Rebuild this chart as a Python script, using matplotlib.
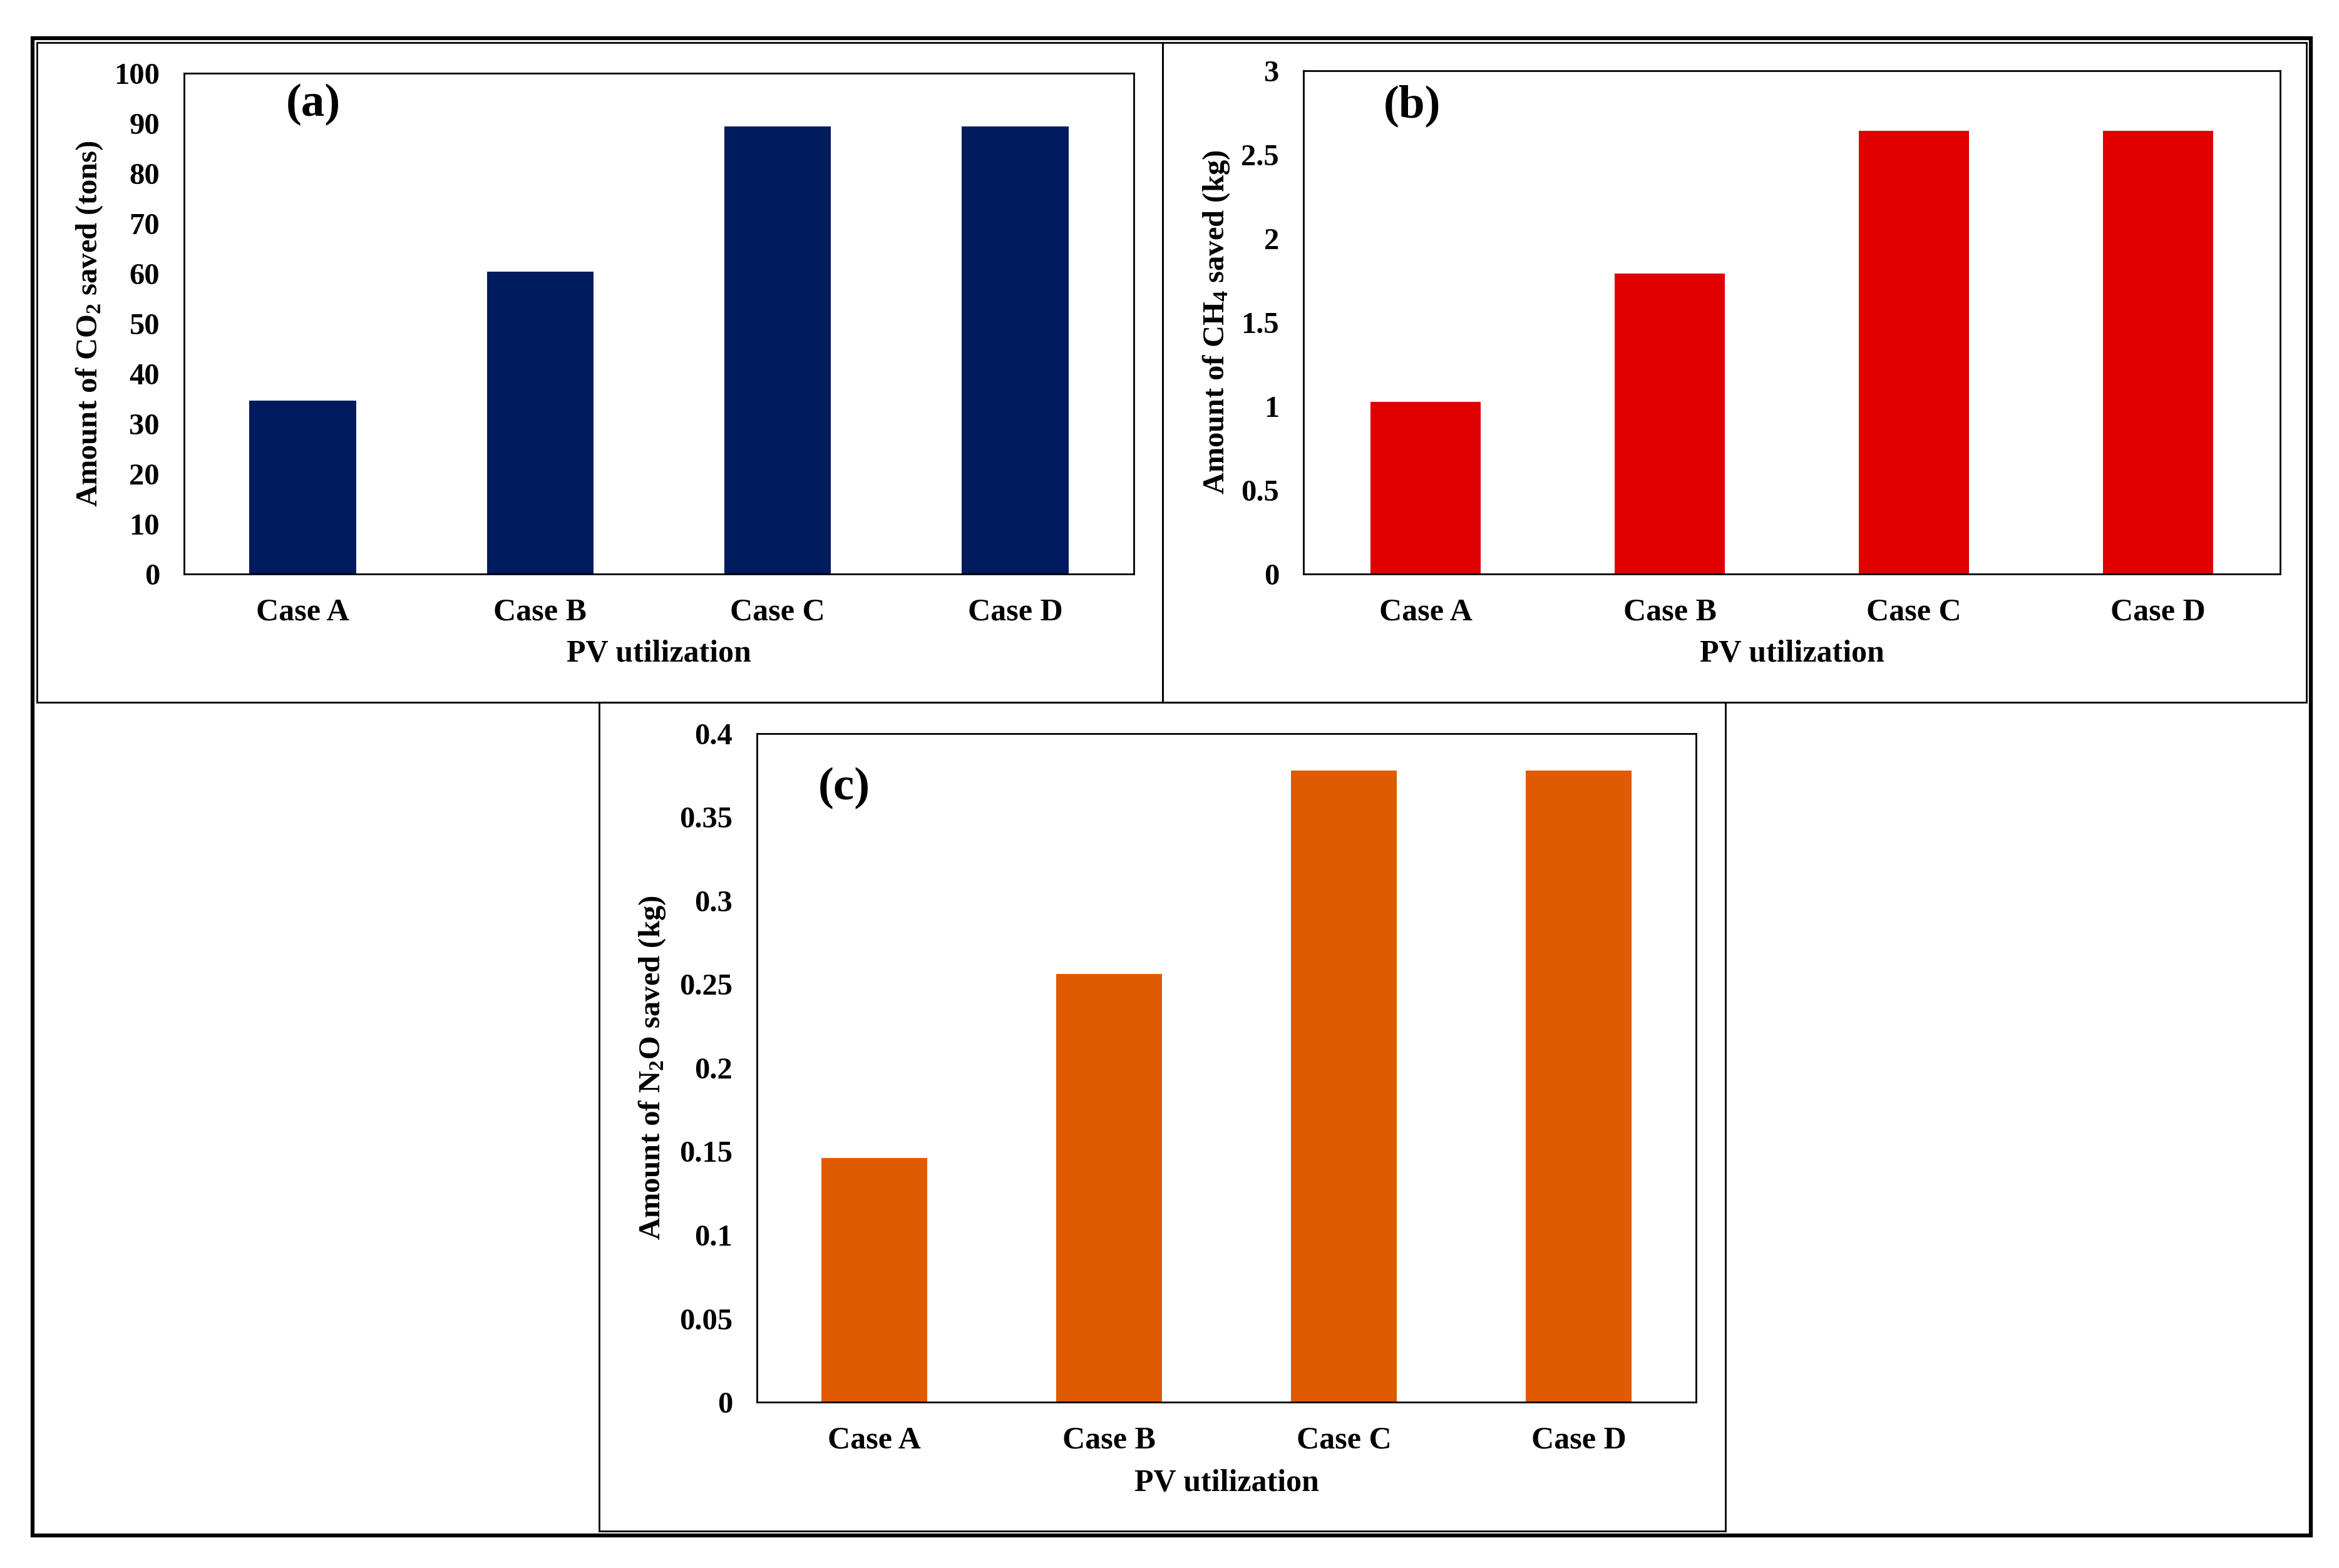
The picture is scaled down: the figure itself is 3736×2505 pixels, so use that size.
import matplotlib
matplotlib.use("Agg")
import matplotlib.pyplot as plt
from matplotlib.patches import Rectangle

plt.rcParams['font.family'] = ['Liberation Serif', 'DejaVu Serif']
plt.rcParams['font.weight'] = 'bold'
plt.rcParams['mathtext.fontset'] = 'custom'
plt.rcParams['mathtext.rm'] = 'Liberation Serif:bold'
plt.rcParams['mathtext.bf'] = 'Liberation Serif:bold'
plt.rcParams['mathtext.it'] = 'Liberation Serif:bold:italic'
plt.rcParams['mathtext.default'] = 'rm'

# data
cases = ["Case A", "Case B", "Case C", "Case D"]
co2_saved = [34.6, 60.4, 89.4, 89.4]      # tons
ch4_saved = [1.025, 1.79, 2.64, 2.64]     # kg
n2o_saved = [0.146, 0.256, 0.378, 0.378]  # kg

co2_ticks = [0, 10, 20, 30, 40, 50, 60, 70, 80, 90, 100]
ch4_ticks = [0, 0.5, 1, 1.5, 2, 2.5, 3]
n2o_ticks = [0, 0.05, 0.1, 0.15, 0.2, 0.25, 0.3, 0.35, 0.4]

W, H = 3736, 2505
fig = plt.figure(figsize=(W / 100, H / 100), dpi=100)


def box(x0, y0, x1, y1):
    # pixel box (top-left origin) -> figure fraction [l, b, w, h]
    return [x0 / W, 1 - y1 / H, (x1 - x0) / W, (y1 - y0) / H]


def frame(x0, y0, x1, y1, lw):
    l, b, w, h = box(x0, y0, x1, y1)
    fig.add_artist(Rectangle((l, b), w, h, transform=fig.transFigure,
                             fill=False, edgecolor='black', linewidth=lw))


def bar_panel(rect, values, ticks, color, ylabel, tag, tag_xy, ylab_x, xlab_y):
    ax = fig.add_axes(box(*rect))
    ax.bar(range(len(cases)), values, width=0.45, color=color)
    ax.set_xlim(-0.5, len(cases) - 0.5)
    ax.set_ylim(ticks[0], ticks[-1])
    ax.set_yticks(ticks)
    ax.set_yticklabels([f"{t:g}" for t in ticks])
    ax.set_xticks(range(len(cases)))
    ax.set_xticklabels(cases)
    ax.tick_params(axis='x', length=0, pad=28, labelsize=36)
    ax.tick_params(axis='y', length=0, pad=28, labelsize=35)
    for s in ax.spines.values():
        s.set_linewidth(2.0)
    ax.set_ylabel(ylabel, fontsize=35, fontweight='bold', va='center')
    ax.yaxis.set_label_coords(ylab_x, 0.5)
    ax.set_xlabel("PV utilization", fontsize=36, fontweight='bold', va='center')
    ax.xaxis.set_label_coords(0.5, xlab_y)
    ax.text(tag_xy[0], tag_xy[1], tag, transform=ax.transAxes, fontsize=54,
            fontweight='bold', ha='center', va='center')
    return ax


# panel frames
frame(52, 61, 3691, 2453, 4.5)
frame(59, 68, 1857, 1122, 2.0)
frame(1857, 68, 3684, 1122, 2.0)
frame(957, 1122, 2756, 2446, 2.0)

bar_panel((294, 117, 1811, 917), co2_saved, co2_ticks, '#001B5E',
          r"Amount of CO$_2$ saved (tons)", "(a)", (0.136, 0.9375),
          (143 - 294) / 1517, -(1045 - 917) / 800)
bar_panel((2082, 113, 3642, 917), ch4_saved, ch4_ticks, '#E00000',
          r"Amount of CH$_4$ saved (kg)", "(b)", (0.111, 0.930),
          (1943 - 2082) / 1560, -(1045 - 917) / 804)
bar_panel((1209, 1172, 2709, 2240), n2o_saved, n2o_ticks, '#E05A00',
          r"Amount of N$_2$O saved (kg)", "(c)", (0.093, 0.9185),
          (1042 - 1209) / 1500, -(2370 - 2240) / 1068)

fig.savefig("out.png", dpi=100, facecolor='white')
